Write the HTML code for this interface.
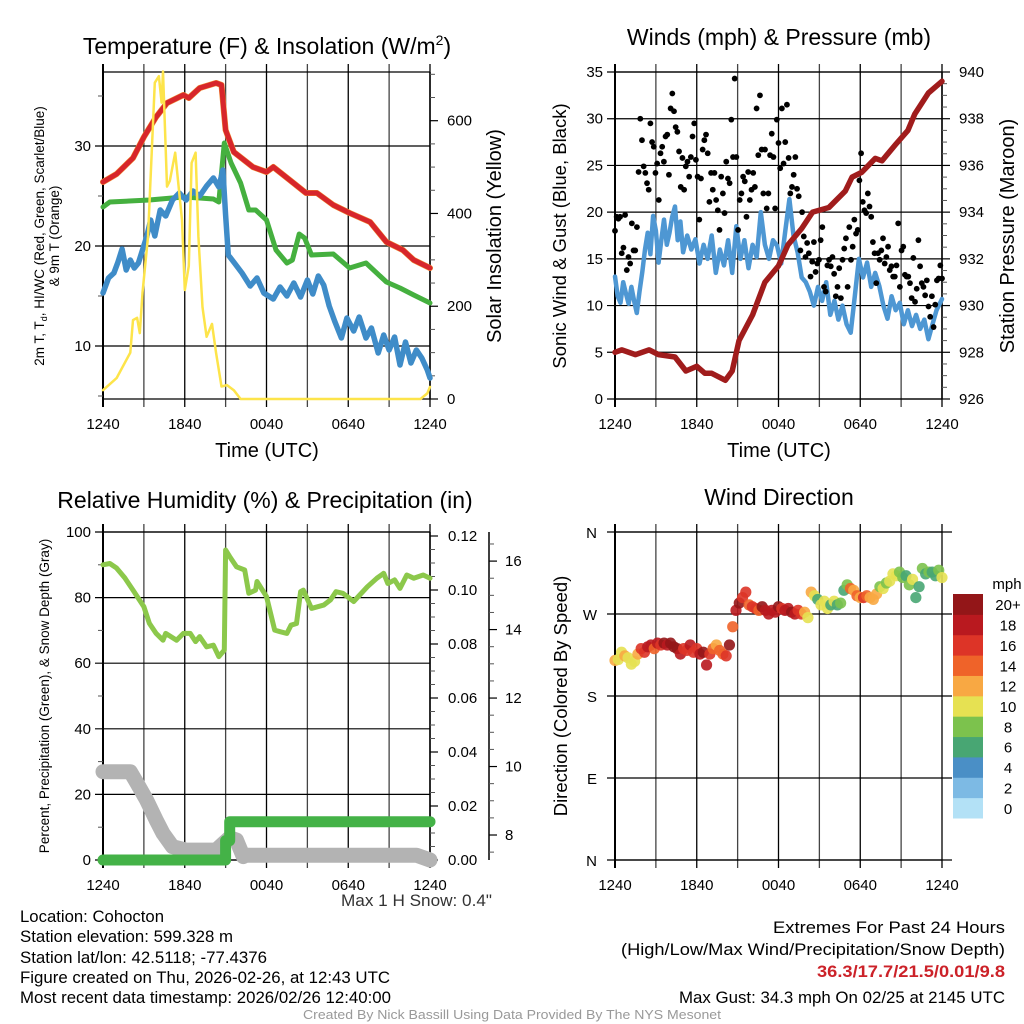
<!DOCTYPE html>
<html><head><meta charset="utf-8">
<style>
html,body{margin:0;padding:0;background:#fff;}
svg{display:block;font-family:"Liberation Sans",Arial,sans-serif;}
</style></head>
<body>
<svg id="fig" width="1024" height="1024" viewBox="0 0 1024 1024" xmlns="http://www.w3.org/2000/svg">
<g id="texts">
<text x="267" y="54" font-size="23" text-anchor="middle">Temperature (F) &amp; Insolation (W/m<tspan font-size="14" dy="-9">2</tspan><tspan dy="9">)</tspan></text>
<text x="779" y="45" font-size="23" text-anchor="middle">Winds (mph) &amp; Pressure (mb)</text>
<text x="265" y="508" font-size="23" text-anchor="middle">Relative Humidity (%) &amp; Precipitation (in)</text>
<text x="779" y="505" font-size="23" text-anchor="middle">Wind Direction</text>
<text x="267" y="457" font-size="20" text-anchor="middle">Time (UTC)</text>
<text x="779" y="457" font-size="20" text-anchor="middle">Time (UTC)</text>
<text transform="translate(44,236) rotate(-90)" font-size="13.5" text-anchor="middle">2m T, T<tspan font-size="9" dy="3">d</tspan><tspan dy="-3">, HI/WC (Red, Green, Scarlet/Blue)</tspan></text>
<text transform="translate(59,236) rotate(-90)" font-size="13.5" text-anchor="middle">&amp; 9m T (Orange)</text>
<text transform="translate(501,236) rotate(-90)" font-size="20" text-anchor="middle">Solar Insolation (Yellow)</text>
<text transform="translate(566,236) rotate(-90)" font-size="18.5" text-anchor="middle">Sonic Wind &amp; Gust (Blue, Black)</text>
<text transform="translate(1014,236) rotate(-90)" font-size="20" text-anchor="middle">Station Pressure (Maroon)</text>
<text transform="translate(49,696) rotate(-90)" font-size="13.5" text-anchor="middle">Percent, Precipitation (Green), &amp; Snow Depth (Gray)</text>
<text transform="translate(567,696) rotate(-90)" font-size="18.5" text-anchor="middle">Direction (Colored By Speed)</text>
<text x="1007" y="589" font-size="15" text-anchor="middle">mph</text>
<g font-size="16.5">
<text x="341" y="906" textLength="151" lengthAdjust="spacingAndGlyphs" fill="#333">Max 1 H Snow: 0.4"</text>
<text x="20" y="922" textLength="144" lengthAdjust="spacingAndGlyphs">Location: Cohocton</text>
<text x="20" y="942" textLength="213" lengthAdjust="spacingAndGlyphs">Station elevation: 599.328 m</text>
<text x="20" y="963" textLength="247" lengthAdjust="spacingAndGlyphs">Station lat/lon: 42.5118; -77.4376</text>
<text x="20" y="983" textLength="370" lengthAdjust="spacingAndGlyphs">Figure created on Thu, 2026-02-26, at 12:43 UTC</text>
<text x="20" y="1003" textLength="371" lengthAdjust="spacingAndGlyphs">Most recent data timestamp: 2026/02/26 12:40:00</text>
<text x="773" y="933" textLength="232" lengthAdjust="spacingAndGlyphs">Extremes For Past 24 Hours</text>
<text x="621" y="955" textLength="384" lengthAdjust="spacingAndGlyphs">(High/Low/Max Wind/Precipitation/Snow Depth)</text>
<text x="817" y="977" textLength="188" lengthAdjust="spacingAndGlyphs" fill="#cc2229" font-weight="bold">36.3/17.7/21.5/0.01/9.8</text>
<text x="679" y="1003" textLength="326" lengthAdjust="spacingAndGlyphs">Max Gust: 34.3 mph On 02/25 at 2145 UTC</text>
<text x="303" y="1019" textLength="418" lengthAdjust="spacingAndGlyphs" font-size="13" fill="#999">Created By Nick Bassill Using Data Provided By The NYS Mesonet</text>
</g>
</g>
</svg>
<script>
// ---- Data (hours since 12:40 UTC) ----
const xTickLabels = ["1240","1840","0040","0640","1240"];
const tempT = [0,1.0,2.2,3.0,3.9,4.7,5.9,6.3,7.1,8.3,8.7,9.0,9.6,11.0,12.0,12.5,13.7,14.9,15.7,16.9,18.1,19.6,20.8,22.0,22.8,24];
const tempV = [26.4,27.2,28.8,30.9,32.9,34.3,35.1,34.8,35.8,36.3,36.1,31.6,29.4,27.9,27.4,27.9,26.6,25.3,25.3,24.1,23.3,22.4,20.4,19.6,18.6,17.8];
const hiT = [0,0.5,3.4,5.9,7.1,8.1,8.5,8.9,9.4,10.1,10.7,11.2,12.0,12.7,13.5,13.9,14.4,14.8,15.3,16.9,18.1,19.3,20.8,21.8,22.8,24];
const hiV = [23.9,24.4,24.6,24.9,24.8,24.7,24.4,30.3,28.3,26.3,23.6,23.6,22.6,19.6,18.3,18.6,21.2,20.8,19.1,19.2,17.8,18.3,16.4,15.8,15.1,14.3];
const dewT = [0,0.4,0.8,1.1,1.4,1.7,2.0,2.3,2.6,2.9,3.2,3.5,3.8,4.2,4.6,5.1,5.6,6.1,6.6,7.1,7.6,8.1,8.5,8.8,9.0,9.2,9.7,10.2,10.8,11.3,11.8,12.5,13.0,13.5,14.0,14.5,15.0,15.4,15.8,16.2,16.6,17.0,17.5,17.9,18.4,18.8,19.3,19.7,20.2,20.6,21.0,21.4,21.8,22.2,22.6,23.0,23.4,23.8,24];
const dewV = [15.3,16.8,17.3,18.4,19.7,17.6,18.6,17.8,18.3,19.6,20.9,22.6,21.0,23.6,23.0,24.6,25.3,24.6,25.5,25.0,26.0,26.8,25.9,27.6,23.1,19.1,18.2,17.3,16.0,16.8,15.3,14.7,15.9,15.0,16.3,14.9,16.6,15.2,17.0,16.1,14.0,12.5,10.8,12.8,11.5,12.9,10.8,11.8,9.3,11.1,9.6,10.9,8.1,10.4,8.3,9.6,8.8,7.6,6.8];
const solT = [0,1.0,2.0,2.2,2.5,2.7,2.9,3.3,3.8,4.1,4.3,4.4,4.7,4.9,5.3,5.8,6.0,6.3,6.5,6.8,7.0,7.3,7.6,8.0,8.3,8.7,9.1,9.6,10.1,23.3,23.8,24];
const solV = [19,45,100,170,175,142,229,350,682,696,639,706,458,470,531,386,235,287,509,531,350,198,134,162,99,27,30,19,0,0,12,26];
const windT = [0,0.2,0.4,0.6,0.8,1.0,1.2,1.4,1.6,1.8,2.0,2.2,2.4,2.6,2.8,3.0,3.2,3.4,3.6,3.8,4.0,4.2,4.4,4.6,4.8,5.0,5.3,5.6,5.9,6.2,6.5,6.8,7.1,7.4,7.7,8.0,8.3,8.6,8.9,9.2,9.5,9.8,10.1,10.4,10.7,11.0,11.3,11.6,11.9,12.2,12.5,12.8,13.1,13.4,13.7,14.0,14.3,14.6,14.9,15.2,15.5,15.8,16.1,16.4,16.7,17.0,17.3,17.6,17.9,18.2,18.5,18.8,19.1,19.4,19.7,20.0,20.3,20.6,20.9,21.2,21.5,21.8,22.1,22.4,22.7,23.0,23.3,23.6,24];
const windV = [13.1,11,10.3,12.5,11.3,10.2,12,10.5,9.2,11.5,13.6,16,17.8,15.5,19.6,18,14.6,17,19.2,16.5,17.8,19.5,20.6,17,19,15.7,17.5,16,17.1,14.5,16.5,15,17.5,13.5,16,14.3,17,13.5,18.5,15,17,14,16.5,15.2,20,16.5,15,17,16.4,14.5,18,21.4,17.5,15.7,13,12.5,11.5,10,12,10.5,12.5,9,10.5,8.5,10,8,7.1,11,15,13,14.6,12,13.5,12.1,10,8.6,11,9.5,10.3,8,9.5,7.8,9,7.5,8.5,6.4,8,9.5,10.7];
const presT = [0,0.5,1.5,2.5,3.2,4.4,5.2,6.0,6.6,7.1,8.1,8.6,9.1,10.1,11.0,12.0,12.7,13.7,14.5,15.7,16.9,17.4,18.1,19.1,19.6,20.6,21.5,22.0,23.0,24];
const presV = [928.0,928.1,927.9,928.1,927.9,927.8,927.2,927.4,927.1,927.1,926.8,927.2,928.5,929.6,931.0,931.7,932.6,933.3,934.0,934.2,934.9,935.5,935.7,936.3,936.2,936.9,937.5,938.2,939.1,939.6];
const gustV = [18.0,19.5,19.3,19.5,15.6,16.2,19.7,13.8,15.2,14.5,18.8,15.9,15.9,18.4,24.3,30.0,27.7,24.9,24.2,23.1,22.4,29.5,27.5,27.0,24.2,25.2,21.3,26.3,27.0,25.4,28.1,28.3,24.0,31.1,32.7,30.8,29.1,28.6,26.5,22.7,25.8,22.4,24.9,25.4,23.8,25.9,28.1,29.5,25.6,23.8,19.2,23.6,26.7,27.7,28.3,26.3,21.1,24.2,22.4,24.2,21.3,20.2,18.1,23.8,22.0,19.9,25.4,23.6,23.1,29.9,25.9,34.3,25.9,18.1,21.3,22.0,23.8,23.3,19.5,24.3,21.3,22.4,24.2,22.7,31.1,26.1,32.5,26.7,22.0,26.7,20.4,22.0,26.1,28.4,25.9,20.4,29.9,27.4,24.7,31.1,25.2,27.5,31.5,25.8,22.0,22.7,24.0,25.9,22.5,21.7,15.9,20.0,17.4,15.2,16.7,15.6,13.1,14.7,16.8,13.6,14.5,14.9,17.0,18.4,12.0,11.5,14.3,14.9,14.2,15.2,13.4,11.0,12.0,14.0,10.8,14.9,16.1,17.2,12.0,18.4,14.9,16.3,19.2,17.7,18.1,23.4,26.3,21.1,20.2,19.9,22.0,20.6,19.5,16.8,15.6,12.4,15.6,14.9,15.9,17.2,14.5,15.2,16.3,13.8,14.2,13.1,13.1,14.3,18.8,12.0,15.9,16.3,13.3,13.1,13.1,12.4,10.8,15.1,10.4,11.8,17.0,14.2,12.4,12.0,11.1,12.7,9.9,8.8,11.0,7.7,10.1,12.7,12.9,14.3,12.9];
const rhT = [0,0.5,1.0,1.6,2.2,3.0,3.4,3.9,4.4,4.6,5.4,5.9,6.4,6.8,7.1,7.6,8.1,8.5,8.9,9.0,9.3,9.8,10.4,10.7,11.2,11.3,12.0,12.6,13.0,13.5,13.8,14.2,14.5,14.7,15.3,16.2,16.7,17.1,17.6,18.4,19.4,20.1,20.6,20.9,21.4,21.8,22.3,22.8,23.5,24];
const rhV = [90,90.4,89,86,82.3,77.2,72.2,69.1,67,69.1,67,69.1,69.1,66.6,68.1,65,65.5,62,64,94.5,92.5,89.4,88.4,81.3,82.3,84.9,80.3,70.1,69.6,69.1,71.6,72.1,81.8,82.3,76.7,77.7,79.3,81.8,81.3,78.8,83.3,85.9,87.4,84.3,85.4,82.8,86.9,85.9,86.9,85.9];
const precipT = [0,9.0,9.0,9.3,9.3,24];
const precipV = [0,0,0.0072,0.0072,0.0142,0.0142];
const snowT = [0,2.0,2.5,3.2,3.9,4.4,5.1,6.1,8.3,9.3,9.8,10.3,10.5,23.0,24];
const snowV = [9.85,9.85,9.51,9.02,8.44,8.05,7.66,7.56,7.56,7.92,7.85,7.37,7.41,7.41,7.27];
const dirV = [219,220,228,224,222,215,218,226,232,228,234,236,232,238,236,238,236,238,234,232,226,232,230,236,228,232,226,228,214,226,232,236,230,226,224,236,256,274,282,288,294,280,278,276,274,278,274,270,274,272,278,276,274,276,272,270,274,270,272,266,294,290,286,280,284,276,280,284,280,282,296,302,298,296,290,288,288,290,288,286,292,300,298,304,306,314,312,316,310,312,302,308,288,300,320,314,316,316,312,318,310];
const dirSpd = [12,11,10,12,10,10,10,13,17,16,18,19,15,18,17,20,19,20,21,20,19,17,16,18,17,16,19,20,19,17,14,13,15,14,16,20,14,18,20,16,17,14,17,16,15,20,19,19,18,18,20,17,19,18,20,19,17,16,12,10,12,10,7,10,11,10,6,10,6,9,6,8,14,12,14,13,16,15,13,12,12,8,10,9,11,10,10,8,9,6,8,11,7,6,8,6,8,7,6,9,10];
const cbLabels = ["0","2","4","6","8","10","12","14","16","18","20+"];
const cbColors = ["#b3e1f6","#7dbae4","#4a8fc6","#48a673","#7cc24d","#e6e152","#f8a843","#ef6329","#dd3427","#b9191f","#931618"];
const dirLabels = ["N","E","S","W","N"];

// ---- helpers ----
const NS="http://www.w3.org/2000/svg";
const svg=document.getElementById('fig');
function el(tag,attrs,parent){const e=document.createElementNS(NS,tag);for(const k in attrs)e.setAttribute(k,attrs[k]);(parent||svg).appendChild(e);return e;}
function lin(d0,d1,p0,p1){return v=>p0+(v-d0)*(p1-p0)/(d1-d0);}
const L=103,R=430,L2=615,R2=942;
function pathD(ts,vs,xs,ys){return ts.map((t,i)=>(i?'L':'M')+xs(t).toFixed(1)+','+ys(vs[i]).toFixed(1)).join('');}
function drawLine(g,ts,vs,xs,ys,color,w,name){
  const p=el('path',{d:pathD(ts,vs,xs,ys),fill:'none',stroke:color,'stroke-width':w,'stroke-linejoin':'round','stroke-linecap':'round'},g);
  
  
  return p;
}
function text(g,x,y,s,size,anchor){const t=el('text',{x:x,y:y,'font-size':size,'text-anchor':anchor||'middle'},g);t.textContent=s;return t;}

function panelFrame(name,x0,x1,y0,y1,xs){
  const g=el('g',{});
  
  
  for(let h=0;h<=24;h+=3){
    const x=xs(h);
    el('line',{x1:x,x2:x,y1:y0-8,y2:y1+8,stroke:(h%6==0?'#000':'#444'),'stroke-width':(h===0?2:1.3)},g);
  }
  for(let i=0;i<xTickLabels.length;i++){
    const t=text(g,xs(i*6),y1+30,xTickLabels[i],15);
    
    
  }
  el('line',{x1:x0,x2:x1,y1:y0,y2:y0,stroke:'#000','stroke-width':1.3},g);
  el('line',{x1:x0,x2:x1,y1:y1,y2:y1,stroke:'#000','stroke-width':1.3},g);
  return g;
}
function leftAxis(g,ys,x0,x1,majors,minors,fmt,gridlines){
  majors.forEach(v=>{const y=ys(v);
    if(gridlines) el('line',{x1:x0-8,x2:x1,y1:y,y2:y,stroke:'#000','stroke-width':1.2},g);
    const t=text(g,x0-12,y+5,fmt(v),15,'end');
    
    });
  minors.forEach(v=>{const y=ys(v);el('line',{x1:x0-5,x2:x0,y1:y,y2:y,stroke:'#555','stroke-width':1},g);});
}
function rightAxis(g,ys,x,majors,minors,fmt,lab){
  majors.forEach(v=>{const y=ys(v);el('line',{x1:x,x2:x+8,y1:y,y2:y,stroke:'#000','stroke-width':1.2},g);
    const t=text(g,x+(lab||16),y+5,fmt(v),15,'start');
    
    });
  minors.forEach(v=>{const y=ys(v);el('line',{x1:x,x2:x+5,y1:y,y2:y,stroke:'#555','stroke-width':1},g);});
}
function range(a,b,s){const r=[];for(let v=a;v<=b+1e-9;v+=s)r.push(+v.toFixed(4));return r;}

// ---- Panel 1: temperature ----
{
const xs=lin(0,24,L,R), ys=lin(4.7,37.4,399,72), ysR=lin(0,705,399,72);
const g=panelFrame('temperature-panel',L,R,72,399,xs);
leftAxis(g,ys,L,R,[10,20,30],[5,15,25,35],v=>v,true);
el('line',{x1:R,x2:R,y1:72,y2:399,stroke:'#000','stroke-width':1.5},g);
rightAxis(g,ysR,R,[0,200,400,600],range(50,700,50).filter(v=>v%200),v=>v,17);
drawLine(g,tempT,tempV,xs,ys,'#f08a30',6,'orange-9m-temp-line');
drawLine(g,tempT,tempV,xs,ys,'#d7262b',5,'red-2m-temp-line');
drawLine(g,hiT,hiV,xs,ys,'#45b03f',5,'green-hi-wc-line');
drawLine(g,dewT,dewV,xs,ys,'#3f8cc8',5.5,'blue-dewpoint-line');
drawLine(g,solT,solV,xs,ysR,'#fde44a',2.5,'yellow-insolation-line');
}
// ---- Panel 2: winds & pressure ----
{
const xs=lin(0,24,L2,R2), ys=lin(0,35,399,72), ysR=lin(926,940,399,72);
const g=panelFrame('winds-panel',L2,R2,72,399,xs);
leftAxis(g,ys,L2,R2,range(0,35,5),[],v=>v,true);
el('line',{x1:R2,x2:R2,y1:72,y2:399,stroke:'#000','stroke-width':1.5},g);
rightAxis(g,ysR,R2,range(926,940,2),range(926.5,939.5,0.5).filter(v=>v%2),v=>v,17);
drawLine(g,windT,windV,xs,ys,'#4e97d3',4.5,'blue-sustained-wind-line');
const n=gustV.length;
gustV.forEach((v,i)=>{const c=el('circle',{cx:xs(i*24/(n-1)),cy:ys(v),r:2.9,fill:'#000'},g);
  
  });
drawLine(g,presT,presV,xs,ysR,'#a01c1c',5.5,'maroon-pressure-line');
}
// ---- Panel 3: RH / precip / snow ----
{
const xs=lin(0,24,L,R), ys=lin(0,100,860,532), ysR=lin(0,0.12,860,536), ysS=lin(7.27,16.85,860,532);
const g=panelFrame('humidity-panel',L,R,532,860,xs);
leftAxis(g,ys,L,R,range(0,100,20),range(10,90,20),v=>v,true);
el('line',{x1:R,x2:R,y1:532,y2:860,stroke:'#000','stroke-width':1.5},g);
rightAxis(g,ysR,R,range(0,0.12,0.02),range(0.005,0.115,0.005).filter(v=>Math.abs(v*50-Math.round(v*50))>1e-6),v=>v.toFixed(2),18);
el('line',{x1:489,x2:489,y1:532,y2:860,stroke:'#000','stroke-width':1.5},g);
rightAxis(g,ysS,489,range(8,16,2),range(7.5,16.5,0.5).filter(v=>v%2),v=>v,16);
drawLine(g,snowT,snowV,xs,ysS,'#b3b3b3',15,'gray-snow-depth-line');
drawLine(g,precipT,precipV,xs,ysR,'#44b247',11,'green-precipitation-line');
drawLine(g,rhT,rhV,xs,ys,'#8cc84b',5,'green-rh-line');
}
// ---- Panel 4: wind direction ----
{
const xs=lin(0,24,L2,R2), ys=lin(0,360,860,532);
const g=panelFrame('wind-direction-panel',L2,R2,532,860,xs);
dirLabels.forEach((s,i)=>{const y=ys(i*90);
  el('line',{x1:L2-8,x2:R2+10,y1:y,y2:y,stroke:'#000','stroke-width':1.2},g);
  const t=text(g,L2-18,y+6,s,15,'end');
  
  });
const n=dirV.length;
dirV.forEach((d,i)=>{const b=Math.min(10,Math.floor(dirSpd[i]/2));
  const c=el('circle',{cx:xs(i*24/(n-1)),cy:ys(d),r:5.6,fill:cbColors[b],opacity:0.9},g);
  
  });
const cb=el('g',{});


const h=(818-594)/cbColors.length;
cbColors.forEach((c,i)=>{const y=818-(i+1)*h;
  el('rect',{x:953,y:y,width:30,height:h+0.5,fill:c},cb);
  const t=text(cb,1008,y+h/2+6,cbLabels[i],15);
  
  });
}
</script>
</body></html>
